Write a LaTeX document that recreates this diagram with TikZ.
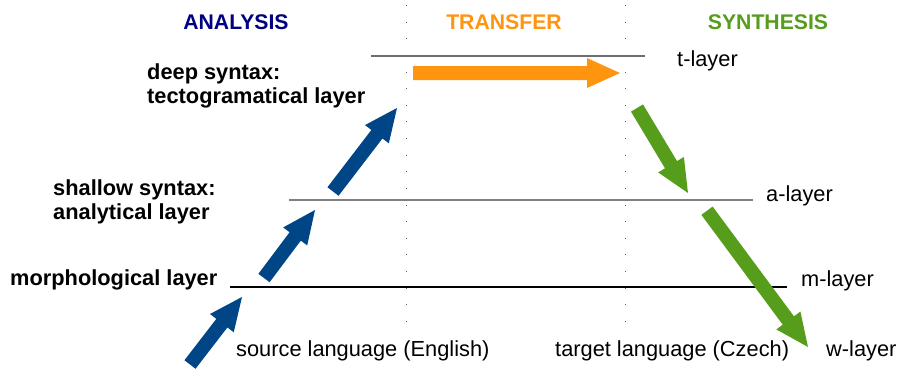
\documentclass[tikz,border=0pt]{standalone}
\usepackage{fontspec}
\setmainfont{Liberation Sans}
\usetikzlibrary{calc}

\definecolor{anablue}{HTML}{000080}
\definecolor{arrowblue}{HTML}{004586}
\definecolor{transorange}{HTML}{FF950E}
\definecolor{synthgreen}{HTML}{579D1C}
\definecolor{tgray}{HTML}{6E6E6E}
\definecolor{agray}{HTML}{808080}

% block arrow: shaft 14pt wide, head 30pt wide and 33pt long
\newcommand\blockarrow[3]{% colour, from, to
  \coordinate (#2-#3-base) at ($(#3)!33pt!(#2)$);
  \fill[#1] ($(#2)!7pt!90:(#3)$) -- ($(#2-#3-base)!7pt!90:(#3)$)
    -- ($(#2-#3-base)!15pt!90:(#3)$) -- (#3)
    -- ($(#2-#3-base)!15pt!-90:(#3)$) -- ($(#2-#3-base)!7pt!-90:(#3)$)
    -- ($(#2)!7pt!-90:(#3)$) -- cycle;}

\begin{document}
\begin{tikzpicture}[x=1pt,y=-1pt,
  txt/.style={anchor=base west, inner sep=0pt, font=\fontsize{21.8}{24}\selectfont},
  level/.style={font=\fontsize{21.8}{24}\selectfont\bfseries, align=left, anchor=west, inner sep=0pt},
  heading/.style={font=\fontsize{21.2}{24}\selectfont\bfseries, anchor=base, inner sep=0pt},
  divider/.style={black!65, line width=1pt, dash pattern=on 1pt off 15.63pt},
  layerline/.style={line width=1.4pt}]
\useasboundingbox (0,0) rectangle (897,368);
\clip (0,0) rectangle (897,368);

% column headings
\node[heading, text=anablue] (hana) at (236,29.3) {ANALYSIS};
\node[heading, text=transorange] (htra) at (504,29.3) {TRANSFER};
\node[heading, text=synthgreen] (hsyn) at (768,29.3) {SYNTHESIS};

% dotted column separators
\coordinate (d1top) at (406,5);  \coordinate (d1bot) at (406,322);
\coordinate (d2top) at (625,5);  \coordinate (d2bot) at (625,322);
\draw[divider] (d1top) -- (d1bot);
\draw[divider] (d2top) -- (d2bot);

% layer lines
\coordinate (tL) at (371,56);  \coordinate (tR) at (645,56);
\coordinate (aL) at (289,200); \coordinate (aR) at (753,200);
\coordinate (mL) at (230,287); \coordinate (mR) at (787,287);
\draw[layerline, tgray] (tL) -- (tR);
\draw[layerline, agray] (aL) -- (aR);
\draw[layerline, black] (mL) -- (mR);

% left-hand level names
\node[level] (deep) at (147,86.4) {deep syntax:\\tectogramatical layer};
\node[level] (shallow) at (53,201.4) {shallow syntax:\\analytical layer};
\node[txt, font=\fontsize{21.8}{24}\selectfont\bfseries] (morph) at (10,285) {morphological layer};

% right-hand layer names
\node[txt] (tlay) at (677,66) {t-layer};
\node[txt] (alay) at (766,201) {a-layer};
\node[txt] (mlay) at (801,286) {m-layer};
\node[txt] (wlay) at (826,356) {w-layer};
\node[txt] (src) at (236,356) {source language (English)};
\node[txt] (tgt) at (555,356) {target language (Czech)};

% arrow end points
\coordinate (b0) at (190,364.5); \coordinate (b1) at (242,297);
\coordinate (b2) at (264,278);   \coordinate (b3) at (315,210);
\coordinate (b4) at (333,191.5); \coordinate (b5) at (397,108);
\coordinate (o0) at (413,73);    \coordinate (o1) at (620,73);
\coordinate (g0) at (637,108);   \coordinate (g1) at (688,193);
\coordinate (g2) at (707,210.7); \coordinate (g3) at (808,347);

% analysis
\blockarrow{arrowblue}{b0}{b1}
\blockarrow{arrowblue}{b2}{b3}
\blockarrow{arrowblue}{b4}{b5}
% transfer
\blockarrow{transorange}{o0}{o1}
% synthesis
\blockarrow{synthgreen}{g0}{g1}
\blockarrow{synthgreen}{g2}{g3}
\end{tikzpicture}
\end{document}
